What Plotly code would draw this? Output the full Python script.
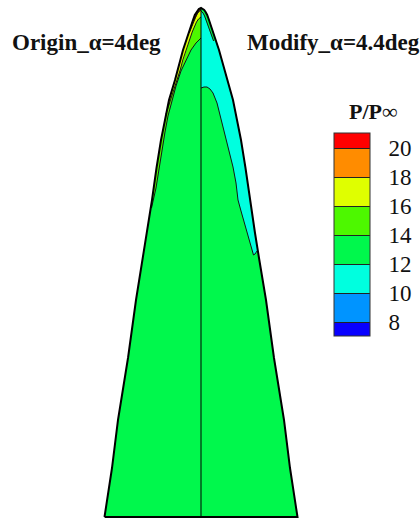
import numpy as np
import plotly.graph_objects as go

# Planform of the nose body: axial station from the nose tip vs local half-span
station = [0, 1, 2, 4, 7, 12, 20, 30, 42, 55, 72, 92, 112, 132, 160, 192, 225, 250, 292, 350, 412, 460, 509]
half_span = [0, 2.2, 3.2, 4.6, 6.2, 8, 11, 14, 18, 21.5, 26, 32, 36, 40, 44.5, 49, 54, 58, 65, 73, 83, 89, 96.5]

# Pressure-ratio levels and band colours (P/Pinf)
levels = [8, 10, 12, 14, 16, 18, 20]
band_colors = ["#0800FF", "#0094FF", "#00FFDF", "#00F84C", "#4DF800", "#DFFF00", "#FF8C00", "#FF0000"]
level_labels = ["8", "10", "12", "14", "16", "18", "20"]

# Origin case (left half): iso-lines of P/Pinf as (spanwise, station) pairs
iso14_z = [0, -5, -10, -15, -20, -25, -29, -33, -36, -39, -42, -45, -49.5]
iso14_s = [30, 35, 42, 52, 63, 78, 92, 108, 124, 142, 160, 180, 200]
iso16_z = [0, -2.5, -4.5, -6.5, -8.8, -11.8, -15, -18.2, -20.8, -24, -27, -30, -33, -35]
iso16_s = [9, 11, 14, 18, 24, 33, 42, 52, 62, 72, 82, 92, 100, 106]
iso18_z = [0, -2.5, -4.5, -6, -7.5, -9, -10.5, -11.8]
iso18_s = [2, 4, 7, 11, 15, 19, 22, 25]
iso20_z = [0, -2, -3.5, -5, -6.5, -7.6]
iso20_s = [1, 2.5, 5, 8, 11, 13]

# Modify case (right half): the P/Pinf = 12 iso-lines (main lobe and the strip at the nose)
iso12_z = [0, 3, 6, 9, 12, 14, 16, 18, 20, 22, 24, 27, 30, 32, 35, 37, 40, 43, 46, 49, 51, 52.5, 54, 56]
iso12_s = [80, 79, 79, 81, 85, 90, 95, 103, 111, 118, 125, 137, 150, 159, 175, 192, 203, 214, 225, 236, 243, 247, 246, 243]
iso12_tip_z = [0, 2, 3.6, 5, 6.6, 8.6, 10.8, 12.6]
iso12_tip_s = [3, 5, 8, 12, 17, 23, 29, 33]

station = np.array(station, float)
half_span = np.array(half_span, float)
base = station[-1]

SERIF = "Times New Roman, Liberation Serif, DejaVu Serif, serif"


def edge_to(s_end, side):
    """Body edge from the nose down to station s_end on one side."""
    es = [s for s in station if s < s_end] + [s_end]
    ez = np.interp(es, station, half_span) * side
    return list(ez), list(es)


def upper_band(bz, bs, side):
    """Region between the nose edge and an iso-line that starts on the axis."""
    ez, es = edge_to(bs[-1], side)
    z = ez + bz[::-1] + [0]
    s = es + bs[::-1] + [0]
    return z, s


fig = go.Figure()


def fill(z, s, color):
    fig.add_trace(go.Scatter(x=z, y=s, mode="lines", fill="toself", fillcolor=color,
                             line=dict(width=0, color=color), hoverinfo="skip", showlegend=False))


def line(z, s, width=1, color="#151515"):
    fig.add_trace(go.Scatter(x=z, y=s, mode="lines", line=dict(width=width, color=color),
                             hoverinfo="skip", showlegend=False))


c = dict(zip(["lt8", "8-10", "10-12", "12-14", "14-16", "16-18", "18-20", "gt20"], band_colors))

# Left half: Origin_alpha=4deg
lz = list(-half_span) + [0, 0]
ls = list(station) + [base, 0]
fill(lz, ls, c["12-14"])
for bz, bs, key in [(iso14_z, iso14_s, "14-16"), (iso16_z, iso16_s, "16-18"),
                    (iso18_z, iso18_s, "18-20"), (iso20_z, iso20_s, "gt20")]:
    z, s = upper_band(bz, bs, -1)
    fill(z, s, c[key])

# Right half: Modify_alpha=4.4deg
rz = list(half_span) + [0, 0]
rs = list(station) + [base, 0]
fill(rz, rs, c["12-14"])
ez, es = edge_to(iso12_s[-1], 1)
cz = [0, 0] + iso12_z + ez[::-1]
cs = [0, iso12_s[0]] + iso12_s + es[::-1]
fill(cz, cs, c["10-12"])
z, s = upper_band(iso12_tip_z, iso12_tip_s, 1)
fill(z, s, c["12-14"])

# Iso-lines
for bz, bs in [(iso14_z, iso14_s), (iso16_z, iso16_s), (iso18_z, iso18_s), (iso20_z, iso20_s),
               (iso12_z, iso12_s), (iso12_tip_z, iso12_tip_s)]:
    line(bz, bs)

# Symmetry line and body outline
line([0, 0], [0, base], width=1, color="#000000")
oz = list(-half_span[::-1]) + list(half_span[1:]) + [-half_span[-1]]
os_ = list(station[::-1]) + list(station[1:]) + [base]
line(oz, os_, width=2, color="#000000")

# Legend bar: a filled-contour colour key on a hidden auxiliary axis
lo, hi = levels[0] - 1, levels[-1] + 1
span = hi - lo
scale = []
edges = [lo] + levels + [hi]
for i, col in enumerate(band_colors):
    scale.append([(edges[i] - lo) / span, col])
    scale.append([(edges[i + 1] - lo) / span, col])

fig.add_trace(go.Contour(
    z=[[levels[0], levels[-1]], [levels[0], levels[-1]]], x=[0, 1], y=[0, 1],
    xaxis="x2", yaxis="y2",
    contours=dict(start=levels[0], end=levels[-1], size=2, coloring="fill"),
    colorscale=scale, line=dict(color="#222222", width=1),
    hoverinfo="skip",
    colorbar=dict(
        x=334 / 420, xanchor="left", y=1 - 133 / 520, yanchor="top",
        lenmode="pixels", len=203, thicknessmode="pixels", thickness=36,
        xpad=0, ypad=0, outlinewidth=1, outlinecolor="#333333",
        tickvals=levels, ticktext=level_labels,
        ticks="outside", ticklen=14, tickcolor="rgba(0,0,0,0)",
        tickfont=dict(family=SERIF, size=23, color="#111111"),
    ),
))

serif_bold = dict(family=SERIF, size=23, color="#111111")
fig.update_layout(
    width=420, height=520, margin=dict(l=0, r=0, t=0, b=0),
    paper_bgcolor="white", plot_bgcolor="white", showlegend=False,
    xaxis=dict(range=[-201, 219], visible=False, fixedrange=True),
    yaxis=dict(range=[512, -8], visible=False, fixedrange=True),
    xaxis2=dict(domain=[0, 0.01], range=[10, 11], visible=False, anchor="y2"),
    yaxis2=dict(domain=[0, 0.01], range=[10, 11], visible=False, anchor="x2"),
    annotations=[
        dict(text="<b>Origin_α=4deg</b>", x=10 / 420, y=1 - 42 / 520, xref="paper", yref="paper",
             xanchor="left", yanchor="middle", showarrow=False, font=serif_bold),
        dict(text="<b>Modify_α=4.4deg</b>", x=245 / 420, y=1 - 42 / 520, xref="paper", yref="paper",
             xanchor="left", yanchor="middle", showarrow=False, font=serif_bold),
        dict(text="<b>P/P</b>∞", x=373 / 420, y=1 - 111 / 520, xref="paper", yref="paper",
             xanchor="center", yanchor="middle", showarrow=False,
             font=dict(family=SERIF, size=22, color="#111111")),
    ],
)

fig.write_html("out.html")
